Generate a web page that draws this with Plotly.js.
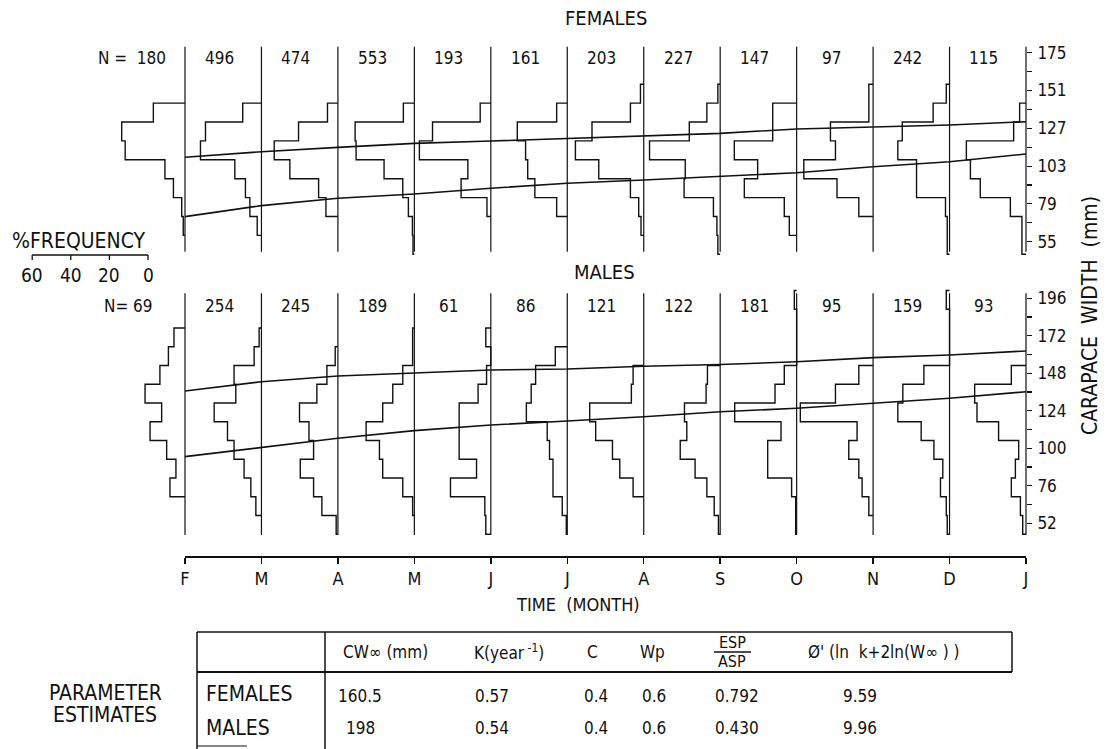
<!DOCTYPE html>
<html><head><meta charset="utf-8">
<script src="https://cdn.plot.ly/plotly-3.0.1.min.js"></script>
<style>html,body{margin:0;padding:0;background:#fff}#chart{width:1107px;height:749px}</style>
</head><body><div id="chart"></div>
<script>
// ---------------- DATA ----------------
const months = ['F','M','A','M','J','J','A','S','O','N','D','J'];
const femaleN = [180,496,474,553,193,161,203,227,147,97,242,115];
const maleN   = [69,254,245,189,61,86,121,122,181,95,159,93];

// carapace-width classes (lower edge, mm), 12 mm wide
const binWidth = 12;
const femaleBinLow = [47,59,71,83,95,107,119,131,143,155];
const maleBinLow   = [45,57,69,81,93,105,117,129,141,153,165,177,189];

// % frequency per class (bottom class first), one list per month F..J
const femalePct = [
  [0,0.9,1.7,6,10.4,31,32.8,16.4,0,0],
  [0,2.2,6,8.3,13.8,31.6,29,9.7,0,0],
  [0,0,6.2,10,24.9,33,20.4,5.4,0,0],
  [0.7,1,3.1,6,15.7,30.2,30.7,5.7,0,0],
  [0,0,2,15.4,11.9,37,30.2,5.5,0,0],
  [0,0,5.5,16.8,20.5,21.6,25.9,5.5,0,0],
  [0,1.4,2.6,6.9,23.3,35.4,26.8,6.9,1.7,0],
  [1.2,1.7,3.5,18.7,18.1,36.6,16,6.9,1.2,0],
  [0,3.8,6.4,27.1,20.2,32.3,12.4,12.4,0,0],
  [0,0,7.4,18.7,35.9,19.5,22.1,2.2,2.2,0],
  [1.2,1.2,2.1,17.1,17.1,26.8,24.5,8.5,1.7,0],
  [2.1,2.1,8.1,23.7,28.8,30.9,6.4,3.3,0,0]
];
const malePct = [
  [0,0,7.8,4.7,9.5,18.1,12.1,20.7,13,8.6,5.7,0,0],
  [0,2.9,5.5,9,14.2,17.6,24.5,13.3,14.2,3.8,1.2,0,0],
  [0.9,8.3,12.6,19.5,12.6,15,19.9,10.9,5.7,1.4,0,0,0],
  [0,0.9,6,16.4,18.1,25,16.4,11.2,6,0.9,0.9,0,0],
  [2.6,3.1,20.9,7.4,16.4,16.4,16.4,6.6,2.2,0,2.6,0,0],
  [0.5,2.6,7.4,7.4,9.2,10.4,21.2,18.7,16.4,6.2,0,0,0],
  [0,0,5.5,12.4,16.2,24.9,28,6.4,5.5,0,0,0,0],
  [0.9,3.1,6.9,13,20.7,17.3,18.5,7.3,6.6,0,0,0,0],
  [0.5,0.5,2.6,15,15,8.1,32.1,11.2,6.4,0,0,0,1.2],
  [0,2.2,5.7,7.4,12.6,8.3,37.7,19.5,7.4,0,0,0,0],
  [1.2,1.7,4.7,3.5,8.1,14.7,26.8,24.2,13.3,0,0,0,1.7],
  [1.7,2.9,7.6,5.5,3.8,14.2,25.4,26.6,7.6,0,0,0,0]
];

// growth curves (mm) read at each month
const femaleUpper = [108.6,112.1,114.9,117.4,118.9,120.6,122.3,123.8,126.6,127.8,129.1,131.2];
const femaleLower = [70.9,77.9,82.6,85.3,88.9,92.1,94.2,96.3,98.8,102.6,105.8,110.7];
const maleUpper   = [136.7,142.6,146.3,148.4,150.1,150.7,152.5,153.6,155.4,158,159.7,162.3];
const maleLower   = [94.7,100.7,106.4,111.3,114.9,117.5,120.2,123.4,125.6,128.8,132,136.2];

// axis ticks
const femaleTickLabels = [55,79,103,127,151,175];
const femaleMinorTicks = [67,91,115,139,163];
const maleTickLabels = [52,76,100,124,148,172,196];
const maleMinorTicks = [64,88,112,136,160,184];
const scalePct = [60,40,20,0];

// parameter table
const tableCols = ['CW∞ (mm)','K(year<sup> -1</sup>)','C','Wp','ESP/ASP',"Ø' (ln  k+2ln(W∞ ) )"];
const tableRows = ['FEMALES','MALES'];
const femaleParams = ['160.5','0.57','0.4','0.6','0.792','9.59'];
const maleParams   = ['198','0.54','0.4','0.6','0.430','9.96'];

// ---------------- GEOMETRY ----------------
const W = 1107, H = 749;
const PX_MONTH = 76.4545, X_F = 185;
const PCT_PX = 1.93;
const K = PCT_PX / PX_MONTH;
const XR = [-X_F/PX_MONTH, (W - X_F)/PX_MONTH];
const px = v => v / W, py = v => 1 - v / H;
const FONT = 'DejaVu Sans Condensed, DejaVu Sans, sans-serif';
const INK = '#111';
const fnt = s => ({size:s, family:FONT, color:INK});

const F_RANGE = [40,190], F_PX = [265.3, 29.1];
const M_RANGE = [40,205], M_PX = [542.1, 284.2];
const fDom = [py(F_PX[0]), py(F_PX[1])];
const mDom = [py(M_PX[0]), py(M_PX[1])];
const fmm = p => F_RANGE[0] + (F_PX[0]-p)/(F_PX[0]-F_PX[1])*(F_RANGE[1]-F_RANGE[0]);
const mmm = p => M_RANGE[0] + (M_PX[0]-p)/(M_PX[0]-M_PX[1])*(M_RANGE[1]-M_RANGE[0]);

function histPath(m, low, vals){
  let top = vals.length-1; while(top>=0 && vals[top]===0) top--;
  let bot = 0; while(bot<vals.length && vals[bot]===0) bot++;
  const xs=[m], ys=[low[top]+binWidth];
  for(let j=top;j>=bot;j--){ const x = m - vals[j]*K; xs.push(x,x); ys.push(low[j]+binWidth, low[j]); }
  xs.push(m); ys.push(low[bot]);
  return {xs, ys};
}

const traces = [];
const lineStyle = w => ({color:INK, width:w});
function panel(pct, low, xa, ya, topmm, botmm, up, lo){
  pct.forEach((vals,i)=>{
    const p = histPath(i, low, vals);
    traces.push({x:p.xs, y:p.ys, xaxis:xa, yaxis:ya, mode:'lines', line:lineStyle(1.4), hoverinfo:'skip'});
  });
  const bx=[], by=[];
  months.forEach((_,i)=>{ bx.push(i,i,null); by.push(topmm, botmm, null); });
  traces.push({x:bx, y:by, xaxis:xa, yaxis:ya, mode:'lines', line:lineStyle(1.2), hoverinfo:'skip'});
  const mx = months.map((_,i)=>i);
  traces.push({x:mx, y:up, xaxis:xa, yaxis:ya, mode:'lines', line:lineStyle(1.6), hoverinfo:'skip'});
  traces.push({x:mx, y:lo, xaxis:xa, yaxis:ya, mode:'lines', line:lineStyle(1.6), hoverinfo:'skip'});
}
panel(femalePct, femaleBinLow, 'x', 'y', fmm(46.7), fmm(251.7), femaleUpper, femaleLower);
panel(malePct, maleBinLow, 'x2', 'y2', mmm(293.3), mmm(535), maleUpper, maleLower);

// % frequency scale bar (same scale as histograms)
const SCALE_ZERO = (148 - X_F)/PX_MONTH;
const sbY = fmm(255), sbT = fmm(260);
traces.push({x:[SCALE_ZERO - scalePct[0]*K, SCALE_ZERO], y:[sbY, sbY], mode:'lines', line:lineStyle(1.3), hoverinfo:'skip'});
const tx=[], ty=[];
scalePct.forEach(p=>{ tx.push(SCALE_ZERO - p*K, SCALE_ZERO - p*K, null); ty.push(sbY, sbT, null); });
traces.push({x:tx, y:ty, mode:'lines', line:lineStyle(1.3), hoverinfo:'skip'});

// helper trace for the month axis
traces.push({x:[0,11], y:[0,0], xaxis:'x3', yaxis:'y3', mode:'markers', marker:{opacity:0}, hoverinfo:'skip'});

// ---------------- ANNOTATIONS ----------------
const ann = [];
const A = (text, x, y, size, o={}) => ann.push(Object.assign({text, x:px(x), y:py(y), xref:'paper', yref:'paper',
  xanchor:'center', yanchor:'middle', showarrow:false, font:fnt(size)}, o));
A('FEMALES', 606, 18, 20);
A('MALES', 604, 272, 20);
femaleN.forEach((n,i)=> ann.push({text: i===0 ? 'N =  '+n : String(n), x: i===0 ? -0.22 : i-0.55, xref:'x',
  xanchor: i===0?'right':'center', y:py(58), yref:'paper', yanchor:'middle', showarrow:false, font:fnt(17)}));
maleN.forEach((n,i)=> ann.push({text: i===0 ? 'N= '+n : String(n), x: i===0 ? -0.39 : i-0.55, xref:'x',
  xanchor: i===0?'right':'center', y:py(306), yref:'paper', yanchor:'middle', showarrow:false, font:fnt(17)}));
A('%FREQUENCY', 10, 241, 21, {xanchor:'left'});
scalePct.forEach(p=> ann.push({text:String(p), x:SCALE_ZERO - p*K, xref:'x', y:py(275), yref:'paper',
  xanchor:'center', yanchor:'middle', showarrow:false, font:fnt(19)}));
A('CARAPACE  WIDTH  (mm)', 1090, 316, 21, {textangle:-90});
A('TIME  (MONTH)', 578, 604, 18);

// table
A('PARAMETER', 105, 693, 21);
A('ESTIMATES', 105, 715, 21);
A(tableRows[0], 204, 694, 21, {xanchor:'left'});
A(tableRows[1], 204, 728, 21, {xanchor:'left'});
const hdrX = [385, 509, 592, 652, 732, 884];
const valX = [360, 492, 596, 654, 737, 860];
tableCols.forEach((c,i)=>{
  if(c==='ESP/ASP'){
    A('ESP', hdrX[i], 642, 16);
    A('ASP', hdrX[i], 661, 16);
  } else A(c, hdrX[i], 652, 17);
});
femaleParams.forEach((v,i)=> A(v, valX[i], 696, 17));
maleParams.forEach((v,i)=> A(v, valX[i], 728, 17));

const L = (x0,y0,x1,y1,w=1.5) => ({type:'line', xref:'paper', yref:'paper', x0:px(x0), y0:py(y0), x1:px(x1), y1:py(y1), line:{color:INK, width:w}});
const shapes = [
  L(197,632,1012,632), L(197,672,1012,672,2.2), L(197,632,197,749), L(325,632,325,749),
  L(1012,632,1012,672), L(714,652,751,652,1.3), L(197,746,247,746,1.2)
];

const yCommon = {anchor:'free', position:px(1026), side:'right', showline:false, showgrid:false, zeroline:false,
  ticks:'outside', ticklen:5, tickwidth:1.2, tickcolor:INK, tickfont:fnt(17), fixedrange:true, ticklabelstandoff:2};

const layout = {
  width:W, height:H, margin:{l:0,r:0,t:0,b:0,pad:0}, showlegend:false,
  paper_bgcolor:'#fff', plot_bgcolor:'rgba(0,0,0,0)', font:{family:FONT, color:INK},
  xaxis:{domain:[0,1], range:XR, visible:false, anchor:'y', fixedrange:true},
  xaxis2:{domain:[0,1], range:XR, visible:false, anchor:'y2', fixedrange:true},
  yaxis:Object.assign({domain:fDom, range:F_RANGE, tickmode:'array', tickvals:femaleTickLabels, ticktext:femaleTickLabels.map(String),
    minor:{tickmode:'array', tickvals:femaleMinorTicks, ticks:'outside', ticklen:5, tickwidth:1.2, tickcolor:INK, showgrid:false}}, yCommon),
  yaxis2:Object.assign({domain:mDom, range:M_RANGE, tickmode:'array', tickvals:maleTickLabels, ticktext:maleTickLabels.map(String),
    minor:{tickmode:'array', tickvals:maleMinorTicks, ticks:'outside', ticklen:5, tickwidth:1.2, tickcolor:INK, showgrid:false}}, yCommon),
  xaxis3:{domain:[px(X_F), px(X_F+11*PX_MONTH)], range:[0,11], anchor:'y3', tickmode:'array', tickvals:months.map((_,i)=>i), ticktext:months,
    ticks:'outside', ticklen:6, tickwidth:1.4, tickcolor:INK, showline:true, linecolor:INK, linewidth:1.8,
    showgrid:false, zeroline:false, ticklabelstandoff:0, tickfont:fnt(18), fixedrange:true},
  yaxis3:{domain:[py(556), py(550)], visible:false, anchor:'x3', fixedrange:true},
  annotations:ann, shapes:shapes
};
Plotly.newPlot('chart', traces, layout, {staticPlot:true, displayModeBar:false});
</script></body></html>
